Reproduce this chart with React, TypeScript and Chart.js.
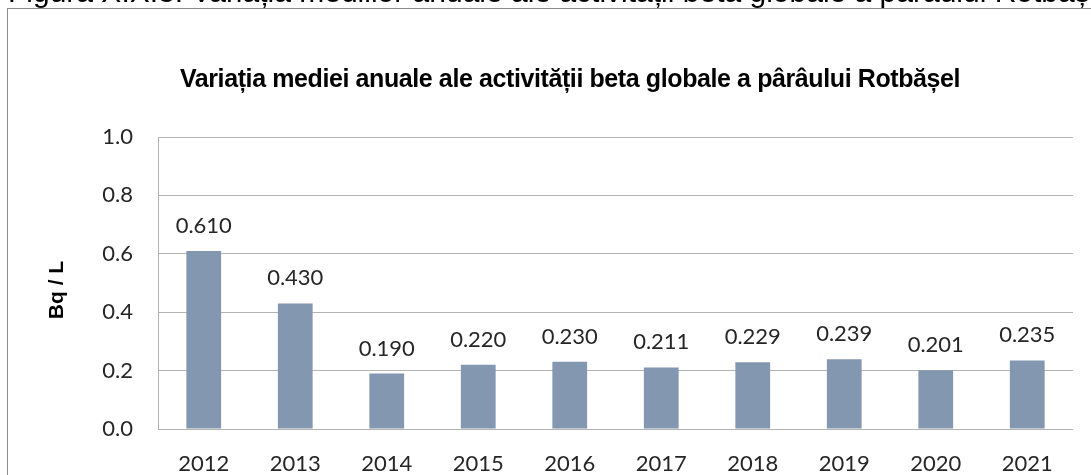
import React, { useEffect, useRef } from "react";
import { Chart, registerables } from "chart.js";

Chart.register(...registerables);

const years = ["2012", "2013", "2014", "2015", "2016", "2017", "2018", "2019", "2020", "2021"];
const betaValues = [0.61, 0.43, 0.19, 0.22, 0.23, 0.211, 0.229, 0.239, 0.201, 0.235];
const yTicks = [0, 0.2, 0.4, 0.6, 0.8, 1.0];
const chartTitle = "Variația mediei anuale ale activității beta globale a pârâului Rotbășel";
const yTitle = "Bq / L";
const caption = "Figura X.X.3. Variația mediilor anuale ale activității beta globale a pârâului Rotbășel";

const tickFont = "Lato";

const labelPlugin = {
  id: "valueLabels",
  afterDatasetsDraw(chart: any) {
    const ctx = chart.ctx;
    const meta = chart.getDatasetMeta(0);
    ctx.save();
    ctx.font = `22px ${tickFont}`;
    ctx.fillStyle = "#262626";
    ctx.textAlign = "center";
    ctx.textBaseline = "alphabetic";
    meta.data.forEach((bar: any, i: number) => {
      ctx.fillText(betaValues[i].toFixed(3), bar.x, bar.y - 18);
    });
    ctx.restore();
  },
};

const titlePlugin = {
  id: "customTitle",
  afterDraw(chart: any) {
    const ctx = chart.ctx;
    ctx.save();
    ctx.font = `bold 25px "Liberation Sans"`;
    (ctx as any).letterSpacing = "-0.4px";
    ctx.fillStyle = "#000000";
    ctx.textAlign = "center";
    ctx.textBaseline = "middle";
    ctx.fillText(chartTitle, 570, 80);
    (ctx as any).letterSpacing = "0px";
    ctx.font = `bold 21px "Liberation Sans"`;
    ctx.translate(57, 290);
    ctx.rotate(-Math.PI / 2);
    ctx.fillText(yTitle, 0, 0);
    ctx.restore();
  },
};

export default function App() {
  const ref = useRef<HTMLCanvasElement | null>(null);
  useEffect(() => {
    if (!ref.current) return;
    const chart = new Chart(ref.current, {
      type: "bar",
      data: {
        labels: years,
        datasets: [
          {
            data: betaValues,
            backgroundColor: "#8497B0",
            borderWidth: 0,
            barPercentage: 0.38,
            categoryPercentage: 1,
          },
        ],
      },
      options: {
        animation: false,
        responsive: false,
        maintainAspectRatio: false,
        layout: { padding: { left: 0, right: 18, top: 137, bottom: 0 } },
        plugins: {
          legend: { display: false },
          title: { display: false },
          tooltip: { enabled: false },
        },
        scales: {
          x: {
            afterFit: (s: any) => {
              s.height = 46;
            },
            grid: { display: false, drawTicks: false },
            border: { display: false },
            ticks: {
              padding: 22,
              color: "#262626",
              font: { family: tickFont, size: 22 },
            },
          },
          y: {
            min: 0,
            max: 1,
            afterFit: (s: any) => {
              s.width = 158;
            },
            afterBuildTicks: (s: any) => {
              s.ticks = yTicks.map((v) => ({ value: v }));
            },
            grid: { color: "#B3B3B3", lineWidth: 1, drawTicks: false },
            border: { display: true, color: "#B3B3B3" },
            ticks: {
              padding: 25,
              color: "#262626",
              font: { family: tickFont, size: 22 },
              callback: (v: any) => Number(v).toFixed(1),
            },
          },
        },
      },
      plugins: [labelPlugin, titlePlugin],
    });
    return () => chart.destroy();
  }, []);

  return (
    <div>
      <div
        style={{
          position: "fixed",
          left: 8,
          top: -25,
          whiteSpace: "nowrap",
          fontFamily: "Liberation Sans",
          fontSize: 30,
          lineHeight: "34px",
          color: "#000",
        }}
      >
        {caption}
      </div>
      <div
        style={{
          position: "fixed",
          left: 7,
          top: 8,
          width: 1200,
          height: 600,
          border: "1px solid #8C8C8C",
          background: "#fff",
        }}
      />
      <div style={{ position: "fixed", left: 0, top: 0, width: 1091, height: 475 }}>
        <canvas ref={ref} width={1091} height={475} style={{ width: 1091, height: 475 }} />
      </div>
    </div>
  );
}
